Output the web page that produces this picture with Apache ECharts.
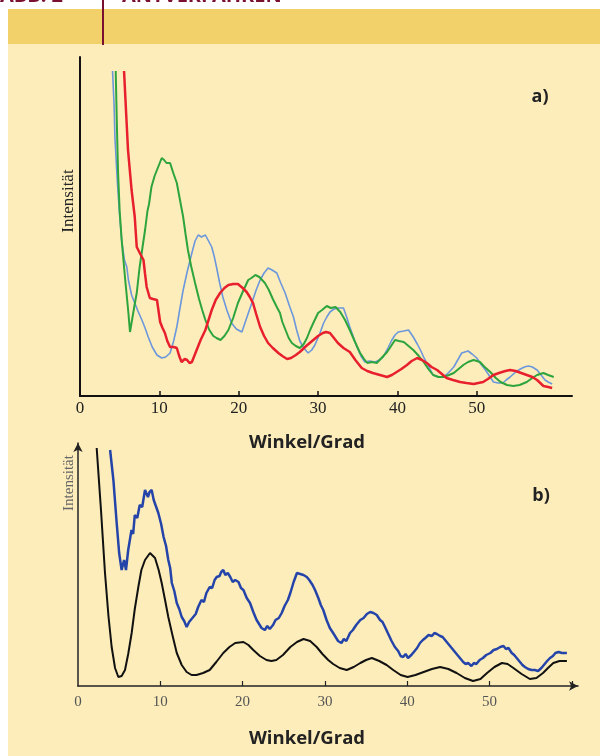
<!DOCTYPE html>
<html><head><meta charset="utf-8">
<script src="https://cdn.jsdelivr.net/npm/echarts@6/dist/echarts.min.js"></script>
<style>html,body{margin:0;padding:0;background:#fff}#c{width:600px;height:756px}</style>
</head><body><div id="c"></div>
<script>
// ---- Panel a) : angle (Grad) vs. intensity (arbitrary units) ----
const aTickLabels = [0, 10, 20, 30, 40, 50];
const aGreen = [[4.5,325],[4.65,270],[4.8,223],[5.0,185],[5.25,156],[5.7,116],[6.1,83],[6.3,64],[6.6,78],[6.9,92],[7.15,103],[7.5,128],[7.9,150],[8.2,166],[8.5,185],[8.7,192],[9.0,209],[9.4,220],[9.8,228],[10.3,238],[10.6,236],[10.9,233],[11.35,233],[11.8,222],[12.2,213],[12.6,196],[13.0,179],[13.3,162],[13.6,146],[14.0,130],[14.5,113],[15.0,97],[15.4,86],[15.8,76],[16.3,66],[16.8,60],[17.2,58],[17.7,56],[18.2,60],[18.7,66],[19.3,78],[19.9,93],[20.5,104],[21.2,116],[21.6,118],[22.1,121],[22.6,119],[23.3,113],[23.8,106],[24.3,97],[24.8,89],[25.2,83],[25.5,74],[25.9,66],[26.3,58],[26.7,53],[27.2,50],[27.7,48],[28.2,52],[28.6,58],[29.0,66],[29.4,73],[30.0,83],[30.5,86],[31.1,90],[31.6,88],[32.2,89],[32.8,84],[33.4,76],[34.0,66],[34.6,55],[35.3,43],[35.8,37],[36.2,33],[36.8,34],[37.4,33],[38.0,38],[38.7,44],[39.2,50],[39.7,56],[40.2,55],[40.8,54],[41.4,50],[42.0,46],[42.7,40],[43.3,34],[43.9,27],[44.5,21],[45.2,19],[45.8,19],[46.5,21],[47.1,23],[47.7,27],[48.3,31],[48.9,34],[49.6,36],[50.4,34],[51.0,29],[51.7,24],[52.4,18],[53.0,14],[53.8,11],[54.6,10],[55.4,11],[56.3,14],[57.0,18],[57.6,21],[58.4,23],[59.0,21],[59.7,19]];
const aBlue = [[4.1,325],[4.3,290],[4.4,259],[4.7,215],[5.0,180],[5.25,156],[5.6,136],[5.9,129],[6.1,116],[6.5,101],[6.9,93],[7.3,85],[7.8,76],[8.2,68],[8.6,59],[9.1,49],[9.7,41],[10.3,38],[10.8,39],[11.35,43],[11.8,55],[12.2,69],[12.6,88],[13.0,106],[13.5,124],[14.1,143],[14.5,155],[14.9,161],[15.3,159],[15.8,161],[16.2,155],[16.6,149],[16.9,140],[17.2,129],[17.6,113],[18.0,99],[18.5,86],[19.1,73],[19.7,67],[20.4,64],[21.0,78],[21.65,93],[22.2,106],[22.7,116],[23.2,123],[23.7,128],[24.2,126],[24.8,123],[25.3,113],[25.85,103],[26.4,90],[26.9,79],[27.3,66],[27.7,55],[28.2,48],[28.75,43],[29.2,46],[29.6,51],[30.2,62],[30.7,73],[31.1,79],[31.5,84],[32.0,87],[32.5,88],[33.2,88],[33.6,79],[34.0,69],[34.5,58],[34.9,49],[35.4,40],[35.9,34],[36.5,35],[37.2,34],[37.7,36],[38.2,39],[38.8,48],[39.3,56],[39.7,61],[40.1,64],[40.8,65],[41.4,66],[42.0,59],[42.5,52],[42.9,46],[43.3,39],[43.7,33],[44.1,27],[44.5,21],[45.1,19],[45.8,19],[46.4,23],[47.1,29],[47.6,36],[48.1,43],[48.5,44],[48.9,45],[49.4,42],[50.0,38],[50.5,32],[51.1,26],[51.6,20],[52.1,14],[52.7,13],[53.3,13],[53.7,16],[54.2,19],[54.9,24],[55.5,27],[56.0,29],[56.5,30],[57.0,29],[57.6,26],[58.1,21],[58.6,16],[59.0,14],[59.5,12]];
const aRed = [[5.55,325],[5.8,285],[6.05,246],[6.5,206],[6.9,179],[7.15,149],[7.6,142],[8.0,136],[8.2,122],[8.4,109],[8.8,98],[9.2,97],[9.7,96],[10.1,74],[10.4,68],[10.7,63],[11.0,55],[11.35,49],[11.8,49],[12.2,48],[12.5,40],[12.8,34],[13.2,37],[13.5,36],[13.8,33],[14.1,34],[14.4,40],[14.7,46],[15.2,56],[15.8,66],[16.2,76],[16.6,86],[17.1,96],[17.65,103],[18.2,108],[18.7,111],[19.3,112],[19.9,112],[20.5,108],[21.0,104],[21.4,99],[21.8,93],[22.2,82],[22.7,69],[23.2,60],[23.7,53],[24.3,48],[25.0,43],[25.5,40],[26.1,37],[26.6,38],[27.2,41],[27.7,44],[28.5,50],[29.4,56],[30.0,60],[30.6,63],[31.0,64],[31.5,63],[32.0,58],[32.5,53],[33.2,48],[34.0,44],[34.7,36],[35.5,28],[36.2,25],[36.9,23],[37.8,21],[38.7,19],[39.3,21],[39.9,24],[40.5,27],[41.2,31],[41.8,35],[42.5,38],[43.1,36],[43.7,33],[44.3,29],[45.0,26],[45.6,22],[46.2,18],[47.0,16],[47.9,14],[48.7,13],[49.6,12],[50.2,13],[50.8,14],[51.4,17],[52.1,21],[52.8,23],[53.6,25],[54.2,26],[54.9,25],[55.6,23],[56.3,21],[57.0,19],[57.6,16],[58.0,13],[58.4,10],[59.0,9],[59.5,8]];

// ---- Panel b) ----
const bTickLabels = [0, 10, 20, 30, 40, 50];
const bTicks = [10, 20, 30, 40, 50, 60];
const bMeasured = [[3.9,236],[4.3,206],[4.7,163],[5.0,133],[5.3,116],[5.6,126],[5.83,116],[6.1,136],[6.5,156],[6.7,152],[6.9,171],[7.2,168],[7.5,181],[7.8,179],[8.14,196],[8.5,189],[8.7,194],[8.95,196],[9.2,186],[9.36,188],[9.76,173],[10.1,162],[10.4,149],[10.7,140],[10.97,126],[11.2,118],[11.4,103],[11.7,95],[12.0,83],[12.3,77],[12.6,69],[12.9,65],[13.2,59],[13.5,64],[13.7,62],[14.0,69],[14.3,72],[14.6,79],[15.0,86],[15.3,84],[15.6,93],[16.0,99],[16.3,98],[16.6,106],[16.85,109],[17.2,110],[17.4,114],[17.65,116],[17.9,111],[18.2,113],[18.5,109],[18.8,104],[19.1,106],[19.5,104],[19.8,98],[20.1,96],[20.5,88],[20.9,83],[21.3,74],[21.7,66],[22.0,62],[22.3,58],[22.7,56],[23.0,60],[23.3,57],[23.7,61],[24.0,66],[24.4,68],[24.75,73],[25.1,80],[25.5,86],[25.8,93],[26.2,104],[26.6,113],[27.0,112],[27.4,111],[27.8,109],[28.1,106],[28.5,101],[28.8,96],[29.2,88],[29.5,81],[29.8,76],[30.2,66],[30.6,58],[31.0,53],[31.2,51],[31.6,45],[32.0,43],[32.3,47],[32.6,45],[33.05,53],[33.4,56],[33.8,61],[34.3,66],[34.7,68],[35.1,72],[35.5,74],[35.9,73],[36.3,71],[36.7,66],[37.0,64],[37.3,59],[37.7,52],[38.1,45],[38.5,39],[38.9,35],[39.2,30],[39.5,29],[39.8,32],[40.1,28],[40.5,31],[40.9,35],[41.2,38],[41.55,43],[41.9,46],[42.2,48],[42.6,51],[43.0,50],[43.3,53],[43.6,52],[44.0,50],[44.3,49],[44.6,46],[45.0,42],[45.4,38],[45.8,34],[46.2,30],[46.5,27],[46.8,24],[47.1,22],[47.4,23],[47.8,20],[48.1,23],[48.4,22],[48.8,26],[49.2,28],[49.6,31],[50.1,33],[50.5,36],[50.9,37],[51.3,39],[51.7,40],[52.0,37],[52.3,38],[52.7,33],[53.0,31],[53.3,28],[53.7,24],[54.0,21],[54.3,19],[54.7,17],[55.1,16],[55.5,16],[55.9,15],[56.3,18],[56.7,22],[57.0,25],[57.35,28],[57.7,30],[58.0,33],[58.4,34],[58.8,33],[59.1,33],[59.4,33]];
const bModel = [[2.27,238],[2.8,175],[3.28,113],[3.7,70],[4.09,39],[4.5,18],[4.9,9],[5.3,10],[5.71,16],[6.1,32],[6.52,53],[6.9,77],[7.33,99],[7.7,116],[8.14,126],[8.75,133],[9.36,128],[9.8,116],[10.17,103],[10.6,85],[10.97,69],[11.5,50],[12.0,33],[12.6,21],[13.2,14],[13.8,11],[14.4,11],[15.2,13],[16.0,16],[16.8,24],[17.65,33],[18.4,39],[19.1,43],[20.1,44],[20.7,41],[21.3,36],[22.1,30],[22.9,26],[23.5,25],[24.1,26],[24.9,31],[25.8,39],[26.6,44],[27.4,47],[28.2,45],[29.0,39],[29.7,32],[30.4,26],[31.0,22],[31.8,18],[32.65,16],[33.5,19],[34.3,23],[35.0,26],[35.7,28],[36.6,25],[37.5,21],[38.3,16],[39.2,11],[40.05,9],[41.0,11],[42.0,14],[43.0,17],[44.0,19],[45.0,17],[46.0,13],[47.0,8],[48.0,5],[48.9,7],[49.7,13],[50.6,19],[51.5,23],[52.2,22],[52.9,18],[53.9,12],[54.9,7],[55.7,8],[56.5,13],[57.1,18],[57.75,23],[58.5,25],[59.4,25]];

const chart = echarts.init(document.getElementById('c'), null, {renderer: 'canvas'});
const serif = '"Liberation Serif", "DejaVu Serif", serif';
const sans = '"Open Sans", "Noto Sans", sans-serif';
const lineOpt = (color, width) => ({type: 'line', showSymbol: false, smooth: false, lineStyle: {color, width}, silent: true, animation: false});

chart.setOption({
  backgroundColor: '#ffffff',
  animation: false,
  graphic: [
    {type: 'rect', z: -10, shape: {x: 8, y: 44, width: 592, height: 712}, style: {fill: '#fdedbb'}},
    {type: 'rect', z: -10, shape: {x: 8, y: 9, width: 592, height: 35}, style: {fill: '#f2d16b'}},
    {type: 'line', z: -5, shape: {x1: 103, y1: 0, x2: 103, y2: 45}, style: {stroke: '#7a1030', lineWidth: 2}},
    {type: 'text', z: -5, x: 0, y: 6, style: {text: 'ABB. 2', fill: '#7a1030', font: 'bold 20px ' + sans, textVerticalAlign: 'bottom'}},
    {type: 'text', z: -5, x: 122, y: 6, style: {text: 'ANTVERFAHREN', fill: '#7a1030', font: 'bold 20px ' + sans, textVerticalAlign: 'bottom'}},
    {type: 'text', x: 69, y: 201, rotation: Math.PI / 2, style: {text: 'Intensität', fill: '#222', font: '17px ' + serif, textAlign: 'center', textVerticalAlign: 'middle'}},
    {type: 'text', x: 69, y: 483, rotation: Math.PI / 2, style: {text: 'Intensität', fill: '#666', font: '15px ' + serif, textAlign: 'center', textVerticalAlign: 'middle'}},
    {type: 'text', x: 307, y: 443, style: {text: 'Winkel/Grad', fill: '#222', font: 'bold 18.5px ' + sans, textAlign: 'center', textVerticalAlign: 'middle'}},
    {type: 'text', x: 307, y: 739, style: {text: 'Winkel/Grad', fill: '#222', font: 'bold 18.5px ' + sans, textAlign: 'center', textVerticalAlign: 'middle'}},
    {type: 'text', x: 540, y: 97, style: {text: 'a)', fill: '#222', font: 'bold 18px ' + sans, textAlign: 'center', textVerticalAlign: 'middle'}},
    {type: 'text', x: 541, y: 496, style: {text: 'b)', fill: '#222', font: 'bold 18px ' + sans, textAlign: 'center', textVerticalAlign: 'middle'}}
  ],
  grid: [
    {left: 80, top: 57, width: 492, height: 339},
    {left: 78, top: 443, width: 500, height: 243}
  ],
  xAxis: [
    {gridIndex: 0, type: 'value', min: 0, max: 62,
     axisLine: {lineStyle: {color: '#111', width: 2}},
     axisTick: {inside: true, length: 5, customValues: [10, 20, 30, 40, 50], lineStyle: {color: '#111', width: 1.5}},
     axisLabel: {customValues: aTickLabels, fontFamily: serif, fontSize: 17, color: '#222', margin: 4},
     splitLine: {show: false}},
    {gridIndex: 1, type: 'value', min: 0, max: 60.75,
     axisLine: {symbol: ['none', 'arrow'], symbolSize: [7, 9], lineStyle: {color: '#222', width: 1.5}},
     axisTick: {inside: true, length: 5, customValues: bTicks, lineStyle: {color: '#222', width: 1.2}},
     axisLabel: {customValues: bTickLabels, fontFamily: serif, fontSize: 15, color: '#555', margin: 9},
     splitLine: {show: false}}
  ],
  yAxis: [
    {gridIndex: 0, type: 'value', min: 0, max: 339,
     axisLine: {show: true, lineStyle: {color: '#111', width: 2}},
     axisTick: {show: false}, axisLabel: {show: false}, splitLine: {show: false}},
    {gridIndex: 1, type: 'value', min: 0, max: 243,
     axisLine: {show: true, symbol: ['none', 'arrow'], symbolSize: [7, 9], lineStyle: {color: '#222', width: 1.5}},
     axisTick: {show: false}, axisLabel: {show: false}, splitLine: {show: false}}
  ],
  series: [
    Object.assign(lineOpt('#6b97dc', 1.6), {xAxisIndex: 0, yAxisIndex: 0, data: aBlue}),
    Object.assign(lineOpt('#2ea43c', 2), {xAxisIndex: 0, yAxisIndex: 0, data: aGreen}),
    Object.assign(lineOpt('#e8202e', 2.5), {xAxisIndex: 0, yAxisIndex: 0, data: aRed}),
    Object.assign(lineOpt('#2444aa', 2.5), {xAxisIndex: 1, yAxisIndex: 1, data: bMeasured}),
    Object.assign(lineOpt('#111111', 2), {xAxisIndex: 1, yAxisIndex: 1, data: bModel})
  ]
});
</script></body></html>
